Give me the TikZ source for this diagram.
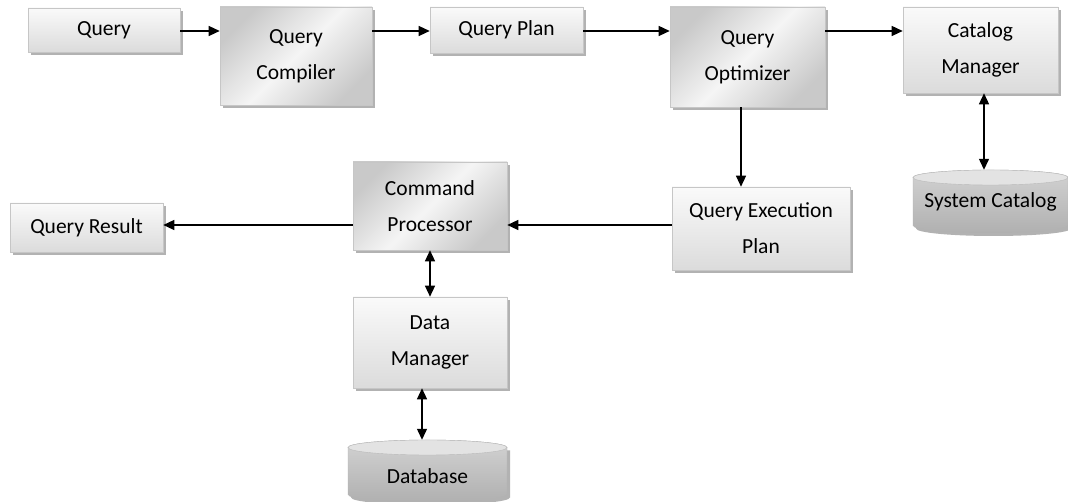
\documentclass[tikz,border=0pt]{standalone}
\usepackage{fontspec}
\setmainfont{Carlito}
\usetikzlibrary{shadows,arrows.meta,calc}
\newcommand{\mycyl}[4]{% #1 left x, #2 right x, #3 top y, #4 bottom y
  \pgfmathsetmacro{\rx}{(#2-#1)/2}%
  \pgfmathsetmacro{\cx}{(#1+#2)/2}%
  \fill[gray!60] (#1+3,#3-7.5-3) -- (#1+3,#4+7.5-3) arc[start angle=180,end angle=360,x radius=\rx,y radius=7.5] -- (#2+3,#3-7.5-3) -- cycle;
  \path[draw=gray!60, top color=gray!35, bottom color=gray!62] (#1,#3-7.5) -- (#1,#4+7.5) arc[start angle=180,end angle=360,x radius=\rx,y radius=7.5] -- (#2,#3-7.5) arc[start angle=0,end angle=180,x radius=\rx,y radius=7.5] -- cycle;
  \path[draw=gray!55, fill=gray!22] (\cx,#3-7.5) ellipse[x radius=\rx, y radius=7.5];
}
\begin{document}
\begin{tikzpicture}[x=1pt,y=1pt,
  box/.style={draw=gray!45, line width=0.6pt, top color=gray!4, bottom color=gray!28,
    drop shadow={shadow xshift=3pt,shadow yshift=-3pt,fill=gray!75,opacity=0.8},
    align=center, inner sep=0pt, font=\fontsize{21.5}{36}\selectfont, text=black},
  darkbox/.style={box, top color=gray!42, bottom color=gray!42, middle color=gray!8, shading angle=45},
  cylnode/.style={inner sep=0pt, align=center, font=\fontsize{21.5}{36}\selectfont, text=black},
  arr/.style={line width=1.3pt, -{Triangle[length=11pt,width=10pt]}},
  darr/.style={line width=1.3pt, {Triangle[length=11pt,width=10pt]}-{Triangle[length=11pt,width=10pt]}},
]
\useasboundingbox (0,0) rectangle (1068,502);
\clip (0,0) rectangle (1068,502);
\fill[white] (0,0) rectangle (1068,502);

\mycyl{913}{1068}{332}{269}
\mycyl{348}{507}{62}{0}

\node[box, minimum width=152, minimum height=44] (query) at (104,472) {Query};
\node[darkbox, minimum width=152, minimum height=98] (comp) at (296,446) {Query\\Compiler};
\node[box, minimum width=153, minimum height=46] (plan) at (506.5,472) {Query Plan};
\node[darkbox, minimum width=155, minimum height=100] (opt) at (747.5,445) {Query\\Optimizer};
\node[box, minimum width=155, minimum height=86] (cat) at (980.5,452) {Catalog\\Manager};
\node[cylnode, minimum width=155, minimum height=63] (syscat) at (990.5,300.5) {System Catalog};
\node[box, minimum width=178, minimum height=83] (qep) at (761,273.5) {Query Execution\\Plan};
\node[darkbox, minimum width=154, minimum height=88] (cp) at (430,296) {Command\\Processor};
\node[box, minimum width=153, minimum height=49] (res) at (86.5,274.5) {Query Result};
\node[box, minimum width=154, minimum height=91] (dm) at (430,159.5) {Data\\Manager};
\node[cylnode, minimum width=159, minimum height=72] (db) at (427.5,26) {Database};

\coordinate (r1) at (0,471);
\coordinate (r2) at (0,277);
\coordinate (c1) at (741,0);
\coordinate (c2) at (984,0);
\coordinate (c3) at (422,0);

\draw[arr] (query.east |- r1) -- (comp.west |- r1);
\draw[arr] (comp.east |- r1) -- (plan.west |- r1);
\draw[arr] (plan.east |- r1) -- (opt.west |- r1);
\draw[arr] (opt.east |- r1) -- (cat.west |- r1);
\draw[arr] (opt.south -| c1) -- (qep.north -| c1);
\draw[darr] (cat.south -| c2) -- (syscat.north -| c2);
\draw[arr] (qep.west |- r2) -- (cp.east |- r2);
\draw[arr] (cp.west |- r2) -- (res.east |- r2);
\draw[darr] (cp.south) -- (dm.north);
\draw[darr] (dm.south -| c3) -- (db.north -| c3);
\end{tikzpicture}
\end{document}
